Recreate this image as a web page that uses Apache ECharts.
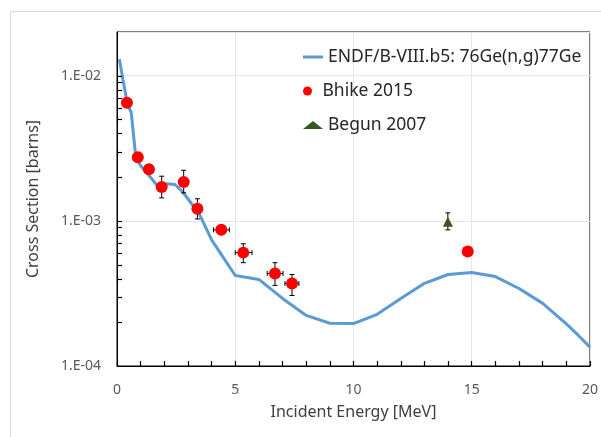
<!DOCTYPE html>
<html><head><meta charset="utf-8">
<script src="https://cdn.jsdelivr.net/npm/echarts@6/dist/echarts.min.js"></script>
<style>html,body{margin:0;padding:0;background:#fff}#c{width:601px;height:437px}</style>
</head><body><div id="c"></div>
<script>
// ENDF/B-VIII.b5 evaluated curve
const endfE  = [0.1, 0.25, 0.45, 0.6, 0.8, 1.0, 1.3, 1.7, 2.1, 2.45, 2.75, 3.0, 3.5, 4.0, 5.0, 6.0, 7.0, 8.0, 9.0, 10.0, 11.0, 12.0, 13.0, 14.0, 15.0, 16.0, 17.0, 18.0, 19.0, 19.5, 20.0];
const endfXS = [1.3e-2, 9.4e-3, 6.3e-3, 5.6e-3, 2.7e-3, 2.4e-3, 2.1e-3, 1.75e-3, 1.8e-3, 1.78e-3, 1.6e-3, 1.42e-3, 1.1e-3, 7.4e-4, 4.2e-4, 3.95e-4, 2.92e-4, 2.23e-4, 1.97e-4, 1.96e-4, 2.27e-4, 2.92e-4, 3.71e-4, 4.27e-4, 4.4e-4, 4.13e-4, 3.42e-4, 2.7e-4, 1.95e-4, 1.63e-4, 1.35e-4];

// Bhike 2015
const bhikeE    = [0.42, 0.88, 1.35, 1.89, 2.82, 3.4, 4.41, 5.34, 6.68, 7.4, 14.83];
const bhikeXS   = [6.5e-3, 2.74e-3, 2.27e-3, 1.71e-3, 1.85e-3, 1.21e-3, 8.67e-4, 6.04e-4, 4.34e-4, 3.7e-4, 6.14e-4];
const bhikeYLo  = [6.1e-3, 2.57e-3, 2.13e-3, 1.44e-3, 1.56e-3, 1.03e-3, 8.2e-4, 5.15e-4, 3.59e-4, 3.06e-4, null];
const bhikeYHi  = [6.9e-3, 2.92e-3, 2.42e-3, 2.03e-3, 2.23e-3, 1.42e-3, 9.2e-4, 6.95e-4, 5.15e-4, 4.27e-4, null];
const bhikeXLo  = [null, null, null, null, null, null, 4.08, 5.0, 6.35, 7.1, null];
const bhikeXHi  = [null, null, null, null, null, null, 4.75, 5.71, 7.02, 7.69, null];

// Begun 2007
const begunE   = [13.99];
const begunXS  = [9.85e-4];
const begunYLo = [8.67e-4];
const begunYHi = [1.135e-3];

// axis ticks
const yMinorTicks = [2e-4,3e-4,4e-4,5e-4,6e-4,7e-4,8e-4,9e-4,1e-3,2e-3,3e-3,4e-3,5e-3,6e-3,7e-3,8e-3,9e-3,1e-2];
const xMajorStep = 5;
const xTickStep = 1;

const names = ['ENDF/B-VIII.b5: 76Ge(n,g)77Ge', 'Bhike 2015', 'Begun 2007'];

const endfData = endfE.map((e,i)=>[e, endfXS[i]]);
const bhikeData = bhikeE.map((e,i)=>[e, bhikeXS[i]]);
const begunData = begunE.map((e,i)=>[e, begunXS[i]]);
const errData = bhikeE.map((e,i)=>[e, bhikeXS[i], bhikeYLo[i], bhikeYHi[i], bhikeXLo[i], bhikeXHi[i]])
  .concat(begunE.map((e,i)=>[e, begunXS[i], begunYLo[i], begunYHi[i], null, null]));
const yTickData = yMinorTicks.map(v => [0, v]);

function renderErr(params, api) {
  const x = api.value(0), y = api.value(1);
  const ylo = api.value(2), yhi = api.value(3), xlo = api.value(4), xhi = api.value(5);
  const children = [];
  const st = {stroke:'#000', lineWidth:1};
  const cap = 2.5;
  if (ylo && yhi && !isNaN(ylo) && !isNaN(yhi)) {
    const p1 = api.coord([x, ylo]), p2 = api.coord([x, yhi]);
    children.push({type:'line', shape:{x1:p1[0],y1:p1[1],x2:p2[0],y2:p2[1]}, style:st});
    children.push({type:'line', shape:{x1:p1[0]-cap,y1:p1[1],x2:p1[0]+cap,y2:p1[1]}, style:st});
    children.push({type:'line', shape:{x1:p2[0]-cap,y1:p2[1],x2:p2[0]+cap,y2:p2[1]}, style:st});
  }
  if (xlo && xhi && !isNaN(xlo) && !isNaN(xhi)) {
    const p1 = api.coord([xlo, y]), p2 = api.coord([xhi, y]);
    children.push({type:'line', shape:{x1:p1[0],y1:p1[1],x2:p2[0],y2:p2[1]}, style:st});
    children.push({type:'line', shape:{x1:p1[0],y1:p1[1]-cap,x2:p1[0],y2:p1[1]+cap}, style:st});
    children.push({type:'line', shape:{x1:p2[0],y1:p2[1]-cap,x2:p2[0],y2:p2[1]+cap}, style:st});
  }
  return {type:'group', children};
}
function renderYTick(params, api) {
  const p = api.coord([api.value(0), api.value(1)]);
  const y = Math.round(p[1]) + 0.5;
  return {type:'line', shape:{x1:p[0], y1:y, x2:p[0]+5, y2:y}, style:{stroke:'#000', lineWidth:1.2}};
}

const chart = echarts.init(document.getElementById('c'), null, {renderer:'canvas'});
const font = '"Noto Sans", "Open Sans", sans-serif';
const legText = {fontSize:17.5, color:'#262626', fontFamily:font};
chart.setOption({
  animation: false,
  textStyle: {fontFamily: font},
  graphic: [{type:'rect', shape:{x:10.5, y:11.5, width:700, height:600}, style:{fill:'none', stroke:'#d9d9d9', lineWidth:1}, silent:true, z:-10}],
  grid: {left:117, right:8, top:32, bottom:71, show:true, borderColor:'#000', borderWidth:1},
  legend: [
    {data:[{name:names[0], icon:'rect'}], left:298, top:43, itemWidth:20, itemHeight:3, textStyle:legText},
    {data:[{name:names[1], icon:'circle'}], left:298, top:77, itemWidth:20, itemHeight:9, textStyle:legText},
    {data:[{name:names[2], icon:'triangle'}], left:298, top:111, itemWidth:20, itemHeight:8, textStyle:legText}
  ],
  xAxis: [{
    type:'value', min:0, max:20, interval:xTickStep,
    name:'Incident Energy [MeV]', nameLocation:'middle', nameGap:38,
    nameTextStyle:{fontSize:16, color:'#404040'},
    axisLine:{show:true, onZero:false, lineStyle:{color:'#000', width:1}},
    axisTick:{show:true, inside:true, length:5, lineStyle:{color:'#000', width:1.2}},
    axisLabel:{fontSize:14, color:'#595959', margin:17, hideOverlap:false,
      formatter: v => (Math.round(v) % xMajorStep === 0 ? String(Math.round(v)) : '')},
    splitLine:{show:false}
  }, {
    type:'value', min:0, max:20, interval:xMajorStep, position:'top',
    axisLine:{show:false}, axisTick:{show:false}, axisLabel:{show:false},
    splitLine:{show:true, lineStyle:{color:'#e6e6e6'}}
  }],
  yAxis: [{
    type:'log', min:1e-4, max:2e-2, logBase:10,
    name:'Cross Section [barns]', nameLocation:'middle', nameGap:76,
    nameTextStyle:{fontSize:16, color:'#404040'},
    axisLine:{show:true, lineStyle:{color:'#000', width:1}},
    axisTick:{show:false},
    axisLabel:{fontSize:14, color:'#595959', margin:16, showMaxLabel:false,
      formatter: v => { const e = Math.round(Math.log10(v)); if (Math.abs(Math.log10(v) - e) > 1e-6) return ''; return '1.E-' + String(-e).padStart(2,'0'); }},
    splitLine:{show:true, lineStyle:{color:'#e6e6e6'}}
  }],
  series: [
    {type:'custom', renderItem:renderYTick, data:yTickData, encode:{x:0, y:1}, z:6, silent:true, clip:false},
    {name:names[0], type:'line', data:endfData, symbol:'none', showSymbol:false, z:3,
     lineStyle:{color:'#5b9bd5', width:3}, itemStyle:{color:'#5b9bd5'}},
    {type:'custom', renderItem:renderErr, data:errData, encode:{x:0, y:1}, z:4, silent:true},
    {name:names[1], type:'scatter', data:bhikeData, symbol:'circle', symbolSize:12, z:5,
     itemStyle:{color:'#ff0000', opacity:1}},
    {name:names[2], type:'scatter', data:begunData, symbol:'triangle', symbolSize:10, z:5,
     itemStyle:{color:'#375623', opacity:1}}
  ]
});
</script></body></html>
